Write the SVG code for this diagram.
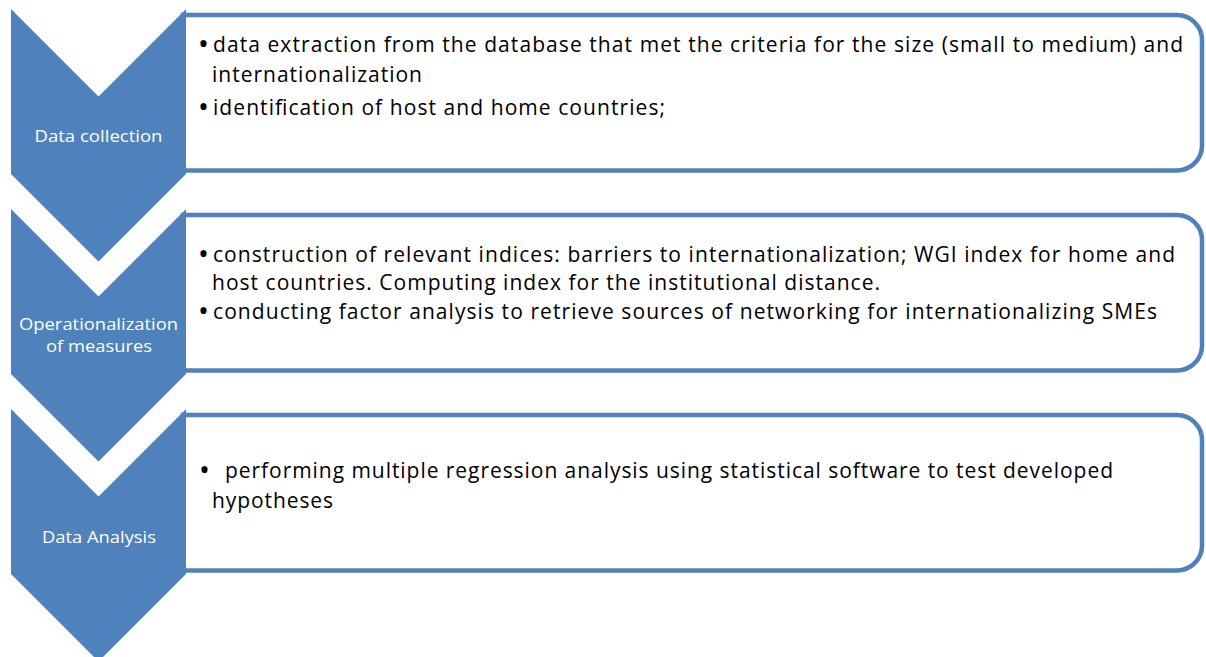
<svg xmlns="http://www.w3.org/2000/svg" width="1206" height="657" viewBox="0 0 1206 657">
  <style>
    .box { fill: #ffffff; stroke: #4F81BD; stroke-width: 4.5; }
    .chev { fill: #4F81BD; }
    .body { font-family: "Open Sans", Lato, "Liberation Sans", sans-serif; font-size: 21px; fill: #000000; }
    .dot { font-size: 29px; }
    .label { font-family: "Open Sans", Lato, "Liberation Sans", sans-serif; font-size: 17px; fill: #ffffff; }
  </style>
  <defs>
    <!-- chevron arrow: notched top, pointed bottom -->
    <path id="chevron" d="M11,9 L98.5,96.5 L186,9 L186,174 L98.5,261.5 L11,174 Z"/>
    <!-- content panel: rounded on the right, square on the left (tucked under the chevron) -->
    <path id="panel" d="M183,15 H1177 A25,25 0 0 1 1202,40 V145.5 A25,25 0 0 1 1177,170.5 H183 Z"/>
  </defs>

  <!-- Stage 1 -->
  <g id="stage-data-collection">
    <use href="#panel" class="box"/>
    <use href="#chevron" class="chev"/>
    <text class="label" x="98.5" y="141.5" text-anchor="middle" textLength="128" lengthAdjust="spacingAndGlyphs">Data collection</text>
    <text class="body" y="51.7"><tspan class="dot" x="198" dy="2">•</tspan><tspan x="213" dy="-2" textLength="970">data extraction from the database that met the criteria for the size (small to medium) and</tspan></text>
    <text class="body" x="212" y="81.7" textLength="210">internationalization</text>
    <text class="body" y="115"><tspan class="dot" x="198" dy="2">•</tspan><tspan x="213" dy="-2" textLength="452">identification of host and home countries;</tspan></text>
  </g>

  <!-- Stage 2 -->
  <g id="stage-operationalization">
    <use href="#panel" class="box" transform="translate(0,200)"/>
    <use href="#chevron" class="chev" transform="translate(0,200)"/>
    <text class="label" x="98.5" y="330" text-anchor="middle" textLength="159" lengthAdjust="spacingAndGlyphs">Operationalization</text>
    <text class="label" x="99" y="352" text-anchor="middle" textLength="106" lengthAdjust="spacingAndGlyphs">of measures</text>
    <text class="body" y="261.7"><tspan class="dot" x="198" dy="2">•</tspan><tspan x="213" dy="-2" textLength="962">construction of relevant indices: barriers to internationalization; WGI index for home and</tspan></text>
    <text class="body" x="212" y="290" textLength="668">host countries. Computing index for the institutional distance.</text>
    <text class="body" y="318.5"><tspan class="dot" x="198" dy="2">•</tspan><tspan x="213" dy="-2" textLength="944">conducting factor analysis to retrieve sources of networking for internationalizing SMEs</tspan></text>
  </g>

  <!-- Stage 3 -->
  <g id="stage-data-analysis">
    <use href="#panel" class="box" transform="translate(0,400)"/>
    <use href="#chevron" class="chev" transform="translate(0,400)"/>
    <text class="label" x="99" y="543" text-anchor="middle" textLength="114" lengthAdjust="spacingAndGlyphs">Data Analysis</text>
    <text class="body" y="478"><tspan class="dot" x="199" dy="2">•</tspan><tspan x="225" dy="-2" textLength="888">performing multiple regression analysis using statistical software to test developed</tspan></text>
    <text class="body" x="212" y="508" textLength="121">hypotheses</text>
  </g>

  <g id="connectors"/>
</svg>
